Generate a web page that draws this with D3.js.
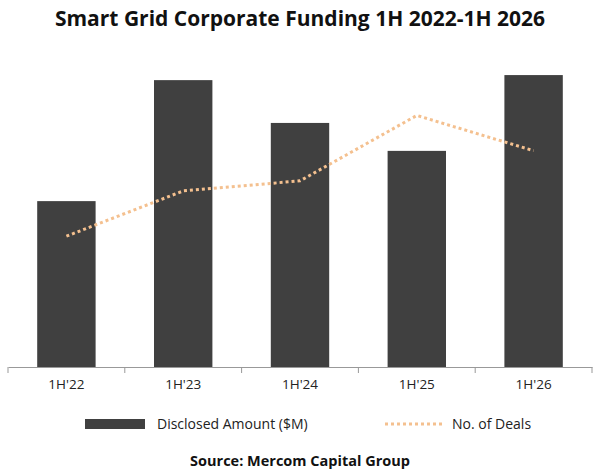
<!DOCTYPE html>
<html>
<head>
<meta charset="utf-8">
<script src="https://cdn.jsdelivr.net/npm/d3@7"></script>
<style>
  body { margin: 0; background: #fff; }
  text { font-family: "Open Sans", "Liberation Sans", sans-serif; }
</style>
</head>
<body>
<div id="chart"></div>
<script>
const categories = ["1H'22", "1H'23", "1H'24", "1H'25", "1H'26"];
const amounts = [558, 965, 821, 727, 982];
const deals = [26, 35, 37, 50, 43];

const width = 600, height = 475;
const plotLeft = 8, plotRight = 592, plotTop = 40, plotBottom = 367;

const svg = d3.select("#chart").append("svg")
  .attr("width", width).attr("height", height);

svg.append("text")
  .attr("x", width / 2).attr("y", 26)
  .attr("text-anchor", "middle")
  .attr("font-size", 21).attr("font-weight", "bold")
  .attr("fill", "#111")
  .text("Smart Grid Corporate Funding 1H 2022-1H 2026");

const x = d3.scaleBand().domain(categories).range([plotLeft, plotRight]).paddingInner(0.5).paddingOuter(0.25);
const xOuter = d3.scaleBand().domain(categories).range([plotLeft, plotRight]);
const y = d3.scaleLinear().domain([0, 1100]).range([plotBottom, plotTop]);
const y2 = d3.scaleLinear().domain([0, 65]).range([plotBottom, plotTop]);

svg.selectAll("rect.bar").data(categories).enter().append("rect")
  .attr("class", "bar")
  .attr("x", d => x(d))
  .attr("width", x.bandwidth())
  .attr("y", (d, i) => y(amounts[i]))
  .attr("height", (d, i) => plotBottom - y(amounts[i]))
  .attr("fill", "#404040");

const line = d3.line()
  .x((d, i) => xOuter(categories[i]) + xOuter.bandwidth() / 2)
  .y(d => y2(d));

svg.append("path").datum(deals)
  .attr("d", line)
  .attr("fill", "none")
  .attr("stroke", "#f4c08f")
  .attr("stroke-width", 3)
  .attr("stroke-dasharray", "3,3");

// x axis
const axis = svg.append("g").attr("transform", `translate(0,${plotBottom})`)
  .call(d3.axisBottom(xOuter).tickSize(0).tickPadding(12));
axis.select(".domain").attr("stroke", "#999");
axis.selectAll("text").attr("font-size", 13.5).attr("fill", "#222");
const bounds = categories.map(c => xOuter(c)).concat([plotRight]);
axis.selectAll("line.sep").data(bounds).enter().append("line")
  .attr("class", "sep")
  .attr("x1", d => d).attr("x2", d => d)
  .attr("y1", 0).attr("y2", 6)
  .attr("stroke", "#999");

// legend
const ly = 424;
svg.append("rect").attr("x", 85).attr("y", ly - 5).attr("width", 60).attr("height", 10).attr("fill", "#404040");
svg.append("text").attr("x", 157).attr("y", ly + 5).attr("font-size", 14).attr("fill", "#222").text("Disclosed Amount ($M)");
svg.append("line").attr("x1", 385).attr("x2", 442).attr("y1", ly).attr("y2", ly)
  .attr("stroke", "#f4c08f").attr("stroke-width", 3).attr("stroke-dasharray", "3,3");
svg.append("text").attr("x", 452).attr("y", ly + 5).attr("font-size", 14).attr("fill", "#222").text("No. of Deals");

svg.append("text")
  .attr("x", width / 2).attr("y", 466)
  .attr("text-anchor", "middle")
  .attr("font-size", 14.5).attr("font-weight", "bold")
  .attr("fill", "#111")
  .text("Source: Mercom Capital Group");
</script>
</body>
</html>
